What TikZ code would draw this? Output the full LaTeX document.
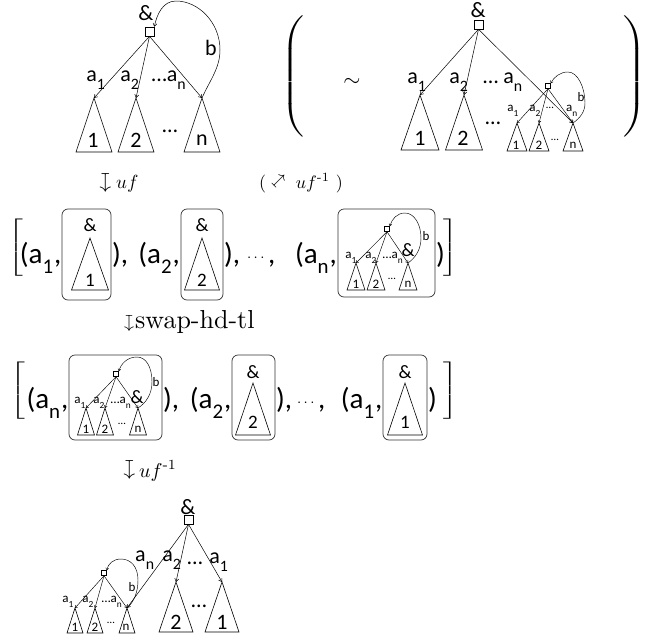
\documentclass[tikz,border=0pt]{standalone}
\usepackage{amsmath}
\usepackage{graphicx}
\usepackage{fontspec}
\newfontfamily\calfont{Carlito}
\usetikzlibrary{arrows.meta}
\newcommand\sbs[1]{\raisebox{-0.36em}{\scalebox{0.72}{#1}}\kern0.03em}
\newcommand\fs[1]{\fontsize{#1}{#1}\selectfont}
\newcommand\mytri[5]{\coordinate (#1) at (#2,#3);\draw[trist] (#1) -- ++(-#4,#5) -- ++(2*#4,0) -- cycle;}
\begin{document}
\begin{tikzpicture}[x=1pt,y=-1pt,
  big/.style={inner sep=0pt,font=\calfont\fs{22}},
  mid/.style={inner sep=0pt,font=\calfont\fs{19}},
  sml/.style={inner sep=0pt,font=\calfont\fs{13}},
  tiny/.style={inner sep=0pt,font=\calfont\fs{11}},
  txt/.style={inner sep=0pt,anchor=base west,font=\calfont\fs{29}},
  txe/.style={inner sep=0pt,anchor=base east,font=\calfont\fs{29}},
  sq/.style={draw,inner sep=0pt,minimum size=9pt,line width=0.6pt},
  ssq/.style={draw,inner sep=0pt,minimum size=5pt,line width=0.5pt},
  edge/.style={line width=0.5pt,-{Straight Barb[length=3pt,width=4pt]}},
  sedge/.style={line width=0.45pt,-{Straight Barb[length=2pt,width=3pt]}},
  trist/.style={line width=0.6pt},
  rbox/.style={draw=black!80,rounded corners=6pt,line width=0.7pt},
  mth/.style={inner sep=0pt,anchor=base west},
  arr/.style={inner sep=0pt},
  dots/.style={inner sep=0pt}]
\useasboundingbox (0,0) rectangle (656,640);

%% ---------------- top-left tree ----------------
\node[big] (A1) at (146,13) {\&};
\node[sq] (R1) at (149.5,31.5) {};
\mytri{T11}{94}{98}{18}{54}
\mytri{T12}{136}{98}{18}{54}
\mytri{T1n}{202}{98}{18}{54}
\node[big] (D11) at (93,140) {1};
\node[big] (D12) at (136,140) {2};
\node[big] (D1n) at (202,140) {n};
\node[big] (E1d) at (170,131) {…};
\draw[edge] (R1.south) -- (T11);
\draw[edge] (R1.south) -- (T12);
\draw[edge] (R1.south) -- (T1n);
\node[big] (L11) at (96,80) {a\sbs{1}};
\node[big] (L12) at (130,80) {a\sbs{2}};
\node[big] (L1n) at (169,80) {…a\sbs{n}};
\draw[edge] (T1n) .. controls (210,80) and (220,68) .. (220,50)
   .. controls (220,22) and (198,1) .. (176,1)
   .. controls (163,1) and (157,14) .. (R1.north east);
\node[big] (B1) at (211,48) {b};

%% ---------------- top-right tree ----------------
\node[inner sep=0pt] (LP) at (294,76.5) {\scalebox{2.6}[1.85]{$\left(\vcenter{\hbox{\rule{0pt}{68pt}}}\right.$}};
\node[inner sep=0pt] (RP) at (633,76.5) {\scalebox{2.6}[1.85]{$\left.\vcenter{\hbox{\rule{0pt}{68pt}}}\right)$}};
\node[inner sep=0pt] (SIM) at (352,82) {\scalebox{2.2}{$\sim$}};
\node[big] (A2) at (478,10) {\&};
\node[sq] (R2) at (478.5,24.5) {};
\mytri{T21}{420}{95}{19}{55}
\mytri{T22}{464}{95}{18.5}{55}
\node[big] (D21) at (420,138) {1};
\node[big] (D22) at (463,138) {2};
\node[big] (E2d) at (493,123) {…};
\node[big] (L21) at (417,82) {a\sbs{1}};
\node[big] (L22) at (459,82) {a\sbs{2}};
\node[big] (L2n) at (503,82) {… a\sbs{n}};
\node[ssq] (S2) at (548,86) {};
\mytri{U21}{517}{123}{10}{28}
\mytri{U22}{539}{123}{10}{28}
\mytri{U2n}{573}{123}{10}{28}
\draw[edge] (R2.south) -- (U2n);
\draw[edge] (R2.south) -- (T21);
\draw[edge] (R2.south) -- (T22);
\draw[sedge] (S2.south) -- (U21);
\draw[sedge] (S2.south) -- (U22);
\draw[sedge] (S2.south) -- (U2n);
\node[sml] (d21) at (516,145) {1};
\node[sml] (d22) at (539,145) {2};
\node[sml] (d2n) at (573,145) {n};
\node[tiny] (e2d) at (555,140) {…};
\node[sml] (l21) at (513,111) {a\sbs{1}};
\node[sml] (l22) at (535,111) {a\sbs{2}};
\node[tiny] (l2d) at (550,108) {…};
\node[sml] (l2n) at (572,111) {a\sbs{n}};
\draw[sedge] (U2n) .. controls (580,118) and (585,112) .. (585,103)
   .. controls (585,88) and (578,72) .. (568,72)
   .. controls (560,72) and (554,77) .. (S2.north east);
\node[sml] (b2) at (581,97) {b};

%% ---------------- row 2 ----------------
\node[arr,rotate=-90] (M1a) at (104,182.5) {\scalebox{2.1}{$\mapsto$}};
\node[mth] (M1) at (116,188) {\scalebox{1.9}{$uf$}};
\node[mth] (M2) at (259,188) {\scalebox{1.8}{(\hspace{16.5pt}$uf^{\textrm{-1}}$ )}};
\node[arr,rotate=45] (M2a) at (280,181) {\scalebox{1.7}{$\mapsto$}};

%% ---------------- row 3 ----------------
\node[inner sep=0pt] (K3l) at (17,247.5) {\scalebox{2.2}[1.35]{$\left[\vcenter{\hbox{\rule{0pt}{40pt}}}\right.$}};
\node[txe] (r3a) at (61.5,263) {(a\sbs{1},};
\draw[rbox] (62,209) rectangle (111,300);
\node[mid] (r3b1a) at (90,225) {\&};
\mytri{r3b1t}{90}{238}{18.5}{52}
\node[mid] (r3b1d) at (90,280) {1};
\node[txt] (r3b) at (112,263) {),};
\node[txe] (r3c) at (180,263) {(a\sbs{2},};
\draw[rbox] (181,209) rectangle (223,300);
\node[mid] (r3b2a) at (202,225) {\&};
\mytri{r3b2t}{202}{238}{17.5}{52}
\node[mid] (r3b2d) at (202,280) {2};
\node[txt] (r3d) at (224,263) {),};
\node[dots] (r3e) at (257,258) {\scalebox{1.5}{$\cdots$}};
\node[txt] (r3f) at (268,263) {,};
\node[txe] (r3g) at (337,263) {(a\sbs{n},};
\draw[rbox] (338,209) rectangle (435,297);
\node[ssq] (S3) at (387,229) {};
\mytri{U31}{356}{263}{9}{27}
\mytri{U32}{376}{263}{9}{27}
\mytri{U3n}{408}{263}{9}{27}
\draw[sedge] (S3.south) -- (U31);
\draw[sedge] (S3.south) -- (U32);
\draw[sedge] (S3.south) -- (U3n);
\node[sml] (d31) at (356,284) {1};
\node[sml] (d32) at (376,284) {2};
\node[sml] (d3n) at (408,284) {n};
\node[tiny] (e3d) at (392,279) {…};
\node[sml] (l31) at (351,258) {a\sbs{1}};
\node[sml] (l32) at (371,258) {a\sbs{2}};
\node[sml] (l3n) at (393,258) {…a\sbs{n}};
\node[mid] (a3) at (408,250) {\&};
\draw[sedge] (U3n) .. controls (415,258) and (421,250) .. (421,238)
   .. controls (421,224) and (414,213) .. (405,213)
   .. controls (397,213) and (392,219) .. (S3.north east);
\node[sml] (b3) at (426,236) {b};
\node[txt] (r3h) at (436,263) {)};
\node[inner sep=0pt] (K3r) at (450,247.5) {\scalebox{2.2}[1.35]{$\left.\vcenter{\hbox{\rule{0pt}{40pt}}}\right]$}};

%% ---------------- row 4 header ----------------
\node[arr,rotate=-90] (M3a) at (128,323.5) {\scalebox{1.8}{$\mapsto$}};
\node[mth] (M3) at (135,328) {\scalebox{2.6}{swap-hd-tl}};

%% ---------------- row 4 ----------------
\node[inner sep=0pt] (K4l) at (19,390.5) {\scalebox{2.2}[1.35]{$\left[\vcenter{\hbox{\rule{0pt}{40pt}}}\right.$}};
\node[txe] (r4a) at (68.5,408) {(a\sbs{n},};
\draw[rbox] (69,355) rectangle (162,440);
\node[ssq] (S4) at (116,374) {};
\mytri{U41}{86}{408}{8.5}{27}
\mytri{U42}{105}{408}{8.5}{27}
\mytri{U4n}{138}{408}{8.5}{27}
\draw[sedge] (S4.south) -- (U41);
\draw[sedge] (S4.south) -- (U42);
\draw[sedge] (S4.south) -- (U4n);
\node[sml] (d41) at (86,429) {1};
\node[sml] (d42) at (105,429) {2};
\node[sml] (d4n) at (138,429) {n};
\node[tiny] (e4d) at (122,424) {…};
\node[sml] (l41) at (80,403) {a\sbs{1}};
\node[sml] (l42) at (99,403) {a\sbs{2}};
\node[sml] (l4n) at (121,403) {…a\sbs{n}};
\node[mid] (a4) at (137,397) {\&};
\draw[sedge] (U4n) .. controls (146,403) and (152,394) .. (152,382)
   .. controls (152,367) and (146,357) .. (137,357)
   .. controls (127,357) and (121,364) .. (S4.north east);
\node[sml] (b4) at (156,382) {b};
\node[txt] (r4b) at (163,408) {),};
\node[txe] (r4c) at (231.5,408) {(a\sbs{2},};
\draw[rbox] (232,355) rectangle (275,440);
\node[mid] (r4b2a) at (253,372) {\&};
\mytri{r4b2t}{253}{383}{17.5}{52}
\node[mid] (r4b2d) at (253,422) {2};
\node[txt] (r4d) at (276,408) {),};
\node[dots] (r4e) at (307,403) {\scalebox{1.5}{$\cdots$}};
\node[txt] (r4f) at (318,408) {,};
\node[txe] (r4g) at (382.5,408) {(a\sbs{1},};
\draw[rbox] (383,355) rectangle (427,440);
\node[mid] (r4b1a) at (405,372) {\&};
\mytri{r4b1t}{405}{383}{17.5}{52}
\node[mid] (r4b1d) at (405,422) {1};
\node[txt] (r4h) at (428,408) {)};
\node[inner sep=0pt] (K4r) at (450,390.5) {\scalebox{2.2}[1.35]{$\left.\vcenter{\hbox{\rule{0pt}{40pt}}}\right]$}};

%% ---------------- row 5 header ----------------
\node[arr,rotate=-90] (M4a) at (128,470) {\scalebox{2.1}{$\mapsto$}};
\node[mth] (M4) at (139,477) {\scalebox{2}{$uf^{\textrm{-1}}$}};

%% ---------------- bottom tree ----------------
\node[big] (A5) at (188,507) {\&};
\node[sq] (R5) at (188.5,519.5) {};
\mytri{T52}{176}{582}{17}{50}
\mytri{T51}{222}{582}{17}{50}
\node[big] (D52) at (176,622) {2};
\node[big] (D51) at (222,622) {1};
\node[big] (E5d) at (199,606) {…};
\node[big] (L5n) at (145,560) {a\sbs{n}};
\node[big] (L52) at (172,560) {a\sbs{2}};
\node[big] (L5d) at (195,563) {…};
\node[big] (L51) at (219,562) {a\sbs{1}};
\node[ssq] (S5) at (104,573) {};
\mytri{U51}{75}{608}{8}{25}
\mytri{U52}{95}{608}{8}{25}
\mytri{U5n}{127}{608}{8}{25}
\draw[edge] (R5.south) -- (U5n);
\draw[edge] (R5.south) -- (T52);
\draw[edge] (R5.south) -- (T51);
\draw[sedge] (S5.south) -- (U51);
\draw[sedge] (S5.south) -- (U52);
\draw[sedge] (S5.south) -- (U5n);
\node[sml] (d51) at (75,627) {1};
\node[sml] (d52) at (95,627) {2};
\node[sml] (d5n) at (126,627) {n};
\node[tiny] (e5d) at (111,623) {…};
\node[sml] (l51) at (68,602) {a\sbs{1}};
\node[sml] (l52) at (88,602) {a\sbs{2}};
\node[sml] (l5n) at (112,602) {…a\sbs{n}};
\draw[sedge] (U5n) .. controls (134,602) and (138,592) .. (138,580)
   .. controls (138,567) and (131,559) .. (121,559)
   .. controls (113,559) and (108,564) .. (S5.north east);
\node[sml] (b5) at (132,587) {b};
\end{tikzpicture}
\end{document}
